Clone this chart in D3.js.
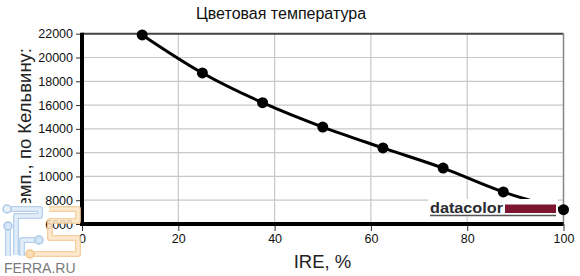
<!DOCTYPE html>
<html><head><meta charset="utf-8">
<script src="https://cdn.jsdelivr.net/npm/d3@7"></script>
<style>body{margin:0;background:#fff}svg{display:block}text{font-family:"Liberation Sans",Arial,sans-serif}</style>
</head><body>
<svg id="c" width="580" height="276"></svg>
<script>
const ire = [12.5, 25, 37.5, 50, 62.5, 75, 87.5, 100];
const temp = [21900, 18700, 16200, 14150, 12400, 10700, 8700, 7200];
const xTicks = [0, 20, 40, 60, 80, 100];
const yTicks = [6000, 8000, 10000, 12000, 14000, 16000, 18000, 20000, 22000];
const title = "Цветовая температура";
const xLabel = "IRE, %";
const yLabel = "Темп., по Кельвину:";

const svg = d3.select("#c");
const x = d3.scaleLinear().domain([0, 100]).range([82, 563.5]);
const y = d3.scaleLinear().domain([6000, 22000]).range([224, 33.7]);

// grid
svg.append("g").selectAll("line").data(yTicks).join("line")
  .attr("x1", x(0)).attr("x2", x(100)).attr("y1", d => y(d)).attr("y2", d => y(d))
  .attr("stroke", "#c8c8c8").attr("stroke-width", 1.2);
svg.append("g").selectAll("line").data(xTicks).join("line")
  .attr("y1", y(6000)).attr("y2", y(22000)).attr("x1", d => x(d)).attr("x2", d => x(d))
  .attr("stroke", "#c8c8c8").attr("stroke-width", 1.2);
// top & right border
svg.append("line").attr("x1", x(0)).attr("x2", x(100)).attr("y1", y(22000)).attr("y2", y(22000)).attr("stroke", "#444").attr("stroke-width", 2);
svg.append("line").attr("x1", x(100)).attr("x2", x(100)).attr("y1", y(22000)).attr("y2", y(6000)).attr("stroke", "#888").attr("stroke-width", 1.5);

// y label (drawn early so the watermark covers its first letter)
svg.append("text").attr("transform", "translate(31,48) rotate(-90)").attr("text-anchor", "end")
  .attr("font-size", 18.5).attr("fill", "#222").text(yLabel);

// axes
const ya = svg.append("g").attr("transform", `translate(${x(0)},0)`)
  .call(d3.axisLeft(y).tickValues(yTicks).tickSize(6).tickPadding(3).tickFormat(d3.format("d")));
ya.select(".domain").remove();
ya.selectAll("text").attr("font-size", 12.5).attr("fill", "#111").style("font-family", "'Liberation Sans',Arial,sans-serif");
ya.selectAll("line").attr("stroke", "#333");
const xa = svg.append("g").attr("transform", `translate(0,${y(6000)})`)
  .call(d3.axisBottom(x).tickValues(xTicks).tickSize(7).tickPadding(3));
xa.select(".domain").remove();
xa.selectAll("text").attr("font-size", 12.5).attr("fill", "#111").style("font-family", "'Liberation Sans',Arial,sans-serif");
xa.selectAll("line").attr("stroke", "#333");
svg.append("line").attr("x1", x(0)).attr("x2", x(0)).attr("y1", y(22000) - 1).attr("y2", y(6000) + 2).attr("stroke", "#000").attr("stroke-width", 4);
svg.append("line").attr("x1", x(0) - 2).attr("x2", x(100)).attr("y1", y(6000)).attr("y2", y(6000)).attr("stroke", "#000").attr("stroke-width", 4);

// series
const pts = ire.map((v, i) => [v, temp[i]]);
svg.append("path").datum(pts)
  .attr("d", d3.line().x(d => x(d[0])).y(d => y(d[1])).curve(d3.curveCatmullRom.alpha(0.5)))
  .attr("fill", "none").attr("stroke", "#000").attr("stroke-width", 3);

// datacolor logo (covers line)
const lg = svg.append("g");
lg.append("rect").attr("x", 428).attr("y", 199).attr("width", 130).attr("height", 18).attr("fill", "#fff");
lg.append("text").attr("x", 430).attr("y", 213).attr("font-size", 15.5).attr("font-weight", "bold")
  .attr("fill", "#2b2b30").attr("textLength", 73).attr("lengthAdjust", "spacingAndGlyphs").text("datacolor");
lg.append("rect").attr("x", 505).attr("y", 204.5).attr("width", 51).attr("height", 8.5).attr("fill", "#7d1530");
lg.append("line").attr("x1", 430).attr("x2", 556).attr("y1", 215.5).attr("y2", 215.5).attr("stroke", "#555").attr("stroke-width", 1.3);

svg.append("g").selectAll("circle").data(pts).join("circle")
  .attr("cx", d => x(d[0])).attr("cy", d => y(d[1])).attr("r", 5.5).attr("fill", "#000");

// texts
svg.append("text").attr("x", 281).attr("y", 19).attr("text-anchor", "middle").attr("font-size", 16).attr("fill", "#111").text(title);
svg.append("text").attr("x", 322.5).attr("y", 268).attr("text-anchor", "middle").attr("font-size", 18.5).attr("fill", "#222").text(xLabel);

// FERRA watermark
svg.append("rect").attr("x", 0).attr("y", 203).attr("width", 34).attr("height", 58).attr("fill", "#fff");
const fw = svg.append("g").attr("fill", "none").attr("stroke-linejoin", "round").attr("opacity", 0.85);
function tube(d, col, fill) {
  fw.append("path").attr("d", d).attr("stroke", col).attr("stroke-width", 6);
  fw.append("path").attr("d", d).attr("stroke", fill).attr("stroke-width", 3.4);
}
tube("M7,209 H40 V216 H16 V255", "#a9c9ec", "#dceaf8");
tube("M8,227 V256", "#a9c9ec", "#dceaf8");
tube("M39,240 H22 V256", "#a9c9ec", "#dceaf8");
tube("M49,209 H78 V221 H50 V238 H78 V254 H30", "#f3c78f", "#fbe5c6");
fw.append("circle").attr("cx", 7).attr("cy", 209).attr("r", 4).attr("fill", "#e6f0fb").attr("stroke", "#9dbfe6").attr("stroke-width", 1.5);
fw.append("circle").attr("cx", 8).attr("cy", 226).attr("r", 4).attr("fill", "#cfe2f6").attr("stroke", "#9dbfe6").attr("stroke-width", 1.5);
fw.append("circle").attr("cx", 39).attr("cy", 240).attr("r", 4).attr("fill", "#cfe2f6").attr("stroke", "#9dbfe6").attr("stroke-width", 1.5);
fw.append("circle").attr("cx", 30).attr("cy", 254).attr("r", 4).attr("fill", "#fbd9a8").attr("stroke", "#f0bb78").attr("stroke-width", 1.5);
svg.append("text").attr("x", 4).attr("y", 273).attr("font-size", 14).attr("fill", "#7a7a7a").text("FERRA.RU");
</script>
</body></html>
